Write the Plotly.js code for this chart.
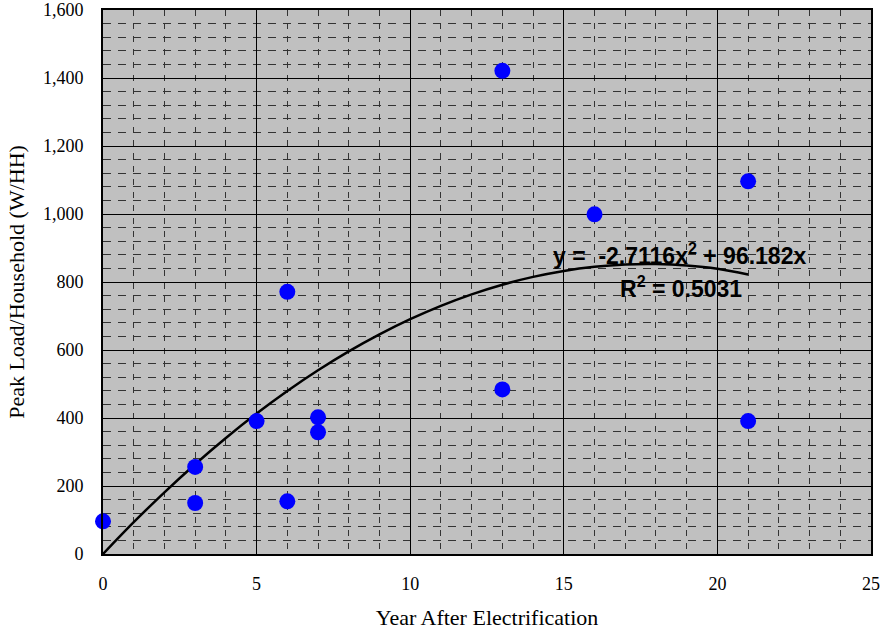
<!DOCTYPE html>
<html>
<head>
<meta charset="utf-8">
<script src="https://cdn.plot.ly/plotly-3.0.1.min.js"></script>
<style>html,body{margin:0;padding:0;background:#fff;}#chart{width:880px;height:630px;}</style>
</head>
<body>
<div id="chart"></div>
<script>
// Observed data points
const yearsAfter = [0, 3, 3, 5, 6, 6, 7, 7, 13, 13, 16, 21, 21];
const peakLoad = [96, 256, 150, 391, 771, 155, 402, 358, 1421, 484, 999, 1096, 391];

// Polynomial trendline as drawn
const trendX = [0,1,2,3,4,5,6,7,8,9,10,11,12,13,14,15,16,17,18,19,20,21];
const trendY = [0,93.5,181.5,264.1,341.3,413.1,479.5,540.4,596.0,646.0,690.7,729.9,763.7,792.1,815.0,832.6,844.7,851.4,852.6,848.5,838.9,822.0];

// Tick values / labels
const xTicks = [0, 5, 10, 15, 20, 25];
const yTicks = [0, 200, 400, 600, 800, 1000, 1200, 1400, 1600];
const yTickText = ['0', '200', '400', '600', '800', '1,000', '1,200', '1,400', '1,600'];

const eqLine1 = 'y =  -2.7116x<sup>2</sup> + 96.182x';
const eqLine2 = 'R<sup>2</sup> = 0.5031';

const serif = 'Liberation Serif';
const sans = 'Liberation Sans';

const traces = [
  {
    x: trendX, y: trendY, mode: 'lines', type: 'scatter',
    line: {color: '#000000', width: 2.5, shape: 'spline'},
    hoverinfo: 'skip', showlegend: false
  },
  {
    x: yearsAfter, y: peakLoad, mode: 'markers', type: 'scatter',
    marker: {color: '#0000FF', size: 16, line: {width: 0}},
    cliponaxis: false, showlegend: false
  }
];

const layout = {
  width: 880, height: 630,
  margin: {l: 103, r: 9, t: 10, b: 76},
  paper_bgcolor: '#ffffff',
  plot_bgcolor: '#C0C0C0',
  showlegend: false,
  font: {family: serif, size: 18, color: '#000'},
  xaxis: {
    range: [0, 25], tickmode: 'array', tickvals: xTicks, ticktext: xTicks.map(String),
    showgrid: true, gridcolor: '#000', gridwidth: 1,
    minor: {dtick: 1, tick0: 0, showgrid: true, gridcolor: '#333', gridwidth: 1, griddash: '6px,7px'},
    zeroline: false, showline: true, linecolor: '#000', linewidth: 2, mirror: true,
    ticks: '', ticklabelstandoff: 12, ticklabeloverflow: 'allow',
    tickfont: {family: serif, size: 18, color: '#000'},
    title: {text: 'Year After Electrification', font: {family: serif, size: 22}, standoff: 17},
    automargin: false, fixedrange: true
  },
  yaxis: {
    range: [0, 1600], tickmode: 'array', tickvals: yTicks, ticktext: yTickText,
    showgrid: true, gridcolor: '#000', gridwidth: 1,
    minor: {dtick: 40, tick0: 0, showgrid: true, gridcolor: '#333', gridwidth: 1, griddash: '8px,7px'},
    zeroline: false, showline: true, linecolor: '#000', linewidth: 2, mirror: true,
    ticks: '', ticklabelstandoff: 14, ticklabeloverflow: 'allow',
    tickfont: {family: serif, size: 18, color: '#000'},
    title: {text: 'Peak Load/Household (W/HH)', font: {family: serif, size: 22}, standoff: 12},
    automargin: false, fixedrange: true
  },
  annotations: [
    {x: 18.78, y: 882, xref: 'x', yref: 'y', text: eqLine1, showarrow: false,
     font: {family: sans, size: 23, color: '#000', weight: 'bold'}},
    {x: 18.8, y: 784, xref: 'x', yref: 'y', text: eqLine2, showarrow: false,
     font: {family: sans, size: 23, color: '#000', weight: 'bold'}}
  ]
};

Plotly.newPlot('chart', traces, layout, {displayModeBar: false, staticPlot: true});
</script>
</body>
</html>
